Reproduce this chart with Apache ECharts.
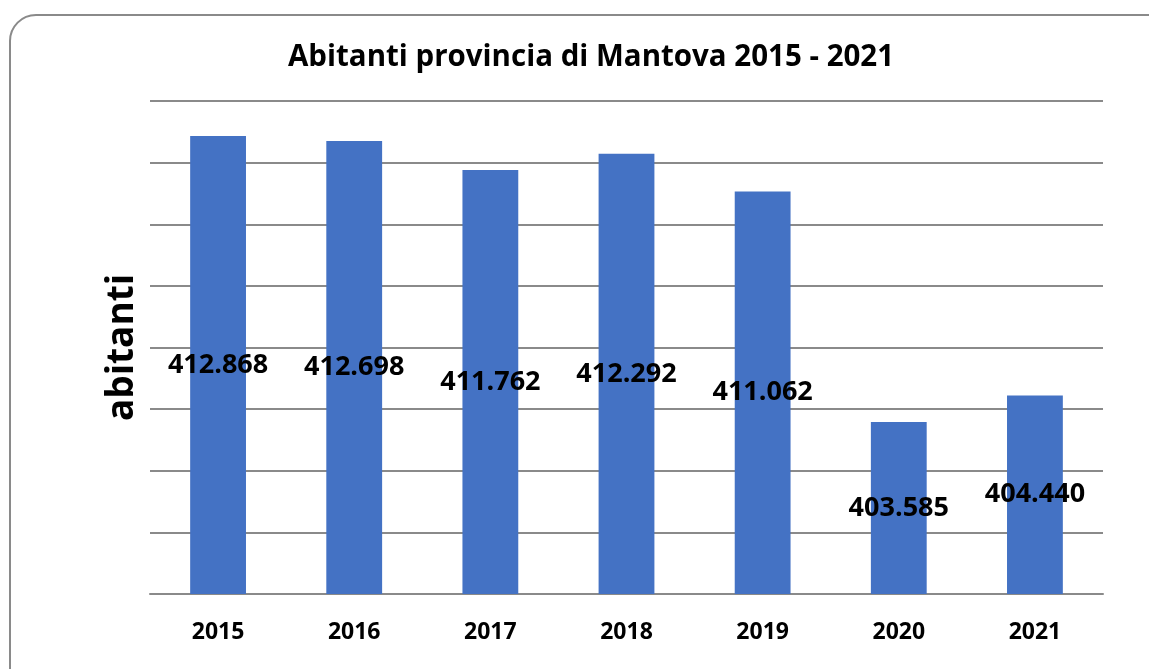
<!DOCTYPE html>
<html>
<head>
<meta charset="utf-8">
<script src="https://cdn.jsdelivr.net/npm/echarts@6/dist/echarts.min.js"></script>
<style>
  html, body { margin: 0; padding: 0; background: #fff; }
  #chart { width: 1149px; height: 669px; }
</style>
</head>
<body>
<div id="chart"></div>
<script>
// dati
const anni = ["2015", "2016", "2017", "2018", "2019", "2020", "2021"];
const abitanti = [412868, 412698, 411762, 412292, 411062, 403585, 404440];

const chart = echarts.init(document.getElementById("chart"));

// separatore migliaia con il punto
function fmt(v) {
  return String(v).replace(/\B(?=(\d{3})+(?!\d))/g, ".");
}

const opt = {
  animation: false,
  title: {
    text: "Abitanti provincia di Mantova 2015 - 2021",
    left: 283,
    top: 38,
    textStyle: {
      fontFamily: "Open Sans",
      fontWeight: "bold",
      fontSize: 29.5,
      color: "#000"
    }
  },
  // cornice arrotondata
  graphic: [
    {
      type: "rect",
      shape: { x: 10, y: 15, width: 1170, height: 690, r: 26 },
      style: { fill: "none", stroke: "#8a8a8a", lineWidth: 2 },
      silent: true
    }
  ],
  grid: {
    left: 150,
    right: 46,
    top: 101,
    bottom: 75
  },
  xAxis: {
    type: "category",
    data: anni,
    axisTick: { show: false },
    axisLine: { lineStyle: { color: "#8a8a8a", width: 2 } },
    axisLabel: {
      margin: 27,
      color: "#000",
      fontFamily: "Open Sans",
      fontWeight: "bold",
      fontSize: 23
    }
  },
  yAxis: {
    type: "value",
    min: 398000,
    max: 414000,
    interval: 2000,
    name: "abitanti",
    nameLocation: "middle",
    nameGap: 9,
    nameRotate: 90,
    nameTextStyle: {
      fontFamily: "Open Sans",
      fontWeight: "bold",
      fontSize: 37,
      color: "#000"
    },
    axisLabel: { show: false },
    axisLine: { show: false },
    axisTick: { show: false },
    splitLine: { lineStyle: { color: "#8a8a8a", width: 2 } }
  },
  series: [
    {
      type: "bar",
      data: abitanti,
      barWidth: "41%",
      itemStyle: { color: "#4472C4" },
      label: {
        show: true,
        position: "inside",
        color: "#000",
        fontFamily: "Open Sans",
        fontWeight: "bold",
        fontSize: 27,
        formatter: p => fmt(p.value)
      }
    }
  ]
};

chart.setOption(opt);
</script>
</body>
</html>
